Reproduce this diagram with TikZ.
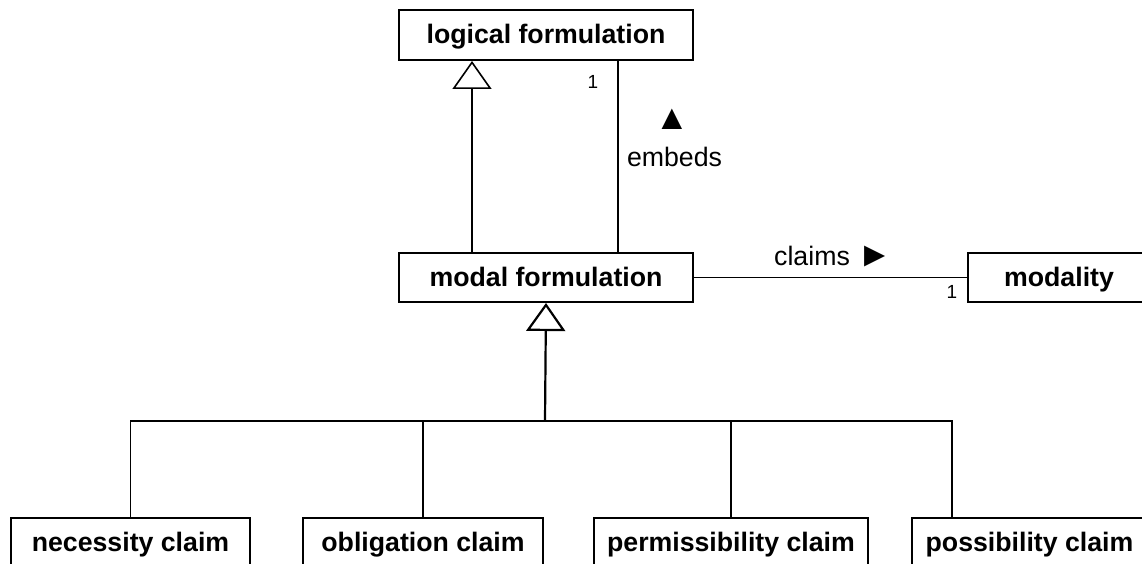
\documentclass[tikz,border=0pt]{standalone}
\usepackage{fontspec}
\setmainfont{Liberation Sans}
\usetikzlibrary{arrows.meta}
\begin{document}
\begin{tikzpicture}[x=1pt,y=-1pt,
  cls/.style={draw, line width=2pt, font=\fontsize{26.7}{30}\selectfont\bfseries, minimum height=49pt, inner sep=0pt, text height=22pt, text depth=5pt, anchor=north west},
  conn/.style={line width=1.5pt},
  gen/.style={line width=1.6pt, -{Triangle[open, length=28pt, width=39pt]}},
  lbl/.style={font=\fontsize{26.7}{30}\selectfont, inner sep=0pt},
  bigsym/.style={font=\fontsize{35}{40}\selectfont},
  mult/.style={font=\fontsize{19}{22}\selectfont, inner sep=0pt}]
\useasboundingbox (0,0) rectangle (1142,564);
\clip (0,0) rectangle (1142,564);
% classes
\node[cls, minimum width=294pt, minimum height=50pt] (logical) at (398,9) {logical formulation};
\node[cls, minimum width=294pt] (modal) at (398,252) {modal formulation};
\node[cls, minimum width=182pt] (modality) at (967,252) {modality};
\node[cls, minimum width=239pt] (nec) at (10,517) {necessity claim};
\node[cls, minimum width=240pt] (obl) at (302,517) {obligation claim};
\node[cls, minimum width=274pt] (perm) at (593,517) {permissibility claim};
\node[cls, minimum width=235pt] (poss) at (911,517) {possibility claim};
% helper coordinates
\coordinate (g1) at (472,0);
\coordinate (e1) at (618,0);
\coordinate (j) at (545,421);
\coordinate (p4) at (952,0);
% generalization logical <- modal
\draw[gen] (modal.north -| g1) -- (logical.south -| g1);
% embeds association
\draw[conn] (logical.south -| e1) -- (modal.north -| e1);
% claims association
\draw[conn] (modal.east) -- (modality.west);
% generalization tree
\draw[gen, line width=2.2pt] (j) -- (modal.south);
\draw[conn] (nec.north) |- (j);
\draw[conn] (obl.north) |- (j);
\draw[conn] (perm.north) |- (j);
\draw[conn] (poss.north -| p4) |- (j);
% labels
\node[mult] (m1) at (593,82) {1};
\node[lbl, bigsym] (tri) at (672,119) {▲};
\node[lbl, anchor=base] (emb) at (674.5,167) {embeds};
\node[lbl, anchor=base west] (cl) at (774,265) {claims {\fontsize{35}{40}\selectfont\raisebox{-1pt}{►}}};
\node[mult] (m2) at (952,292) {1};
\end{tikzpicture}
\end{document}
